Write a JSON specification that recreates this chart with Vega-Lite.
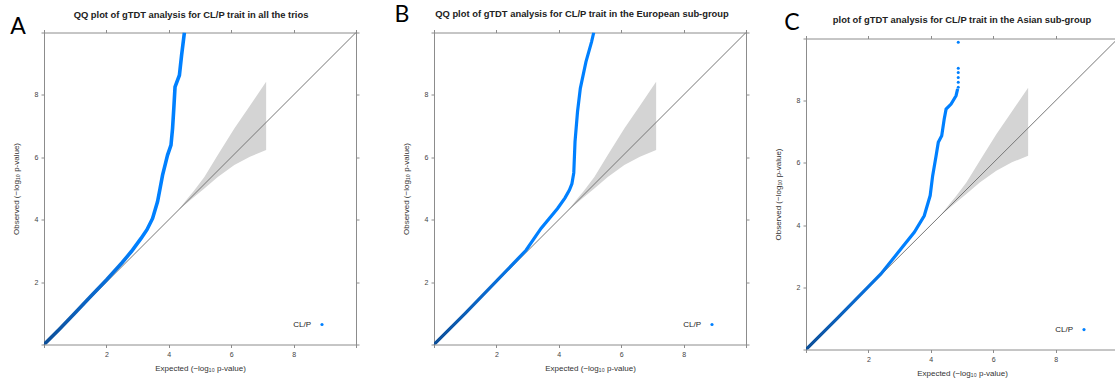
{
  "$schema": "https://vega.github.io/schema/vega-lite/v6.json",
  "padding": {"left": 10, "top": 3.5, "right": 0, "bottom": 0},
  "background": "white",
  "config": {
    "view": {"stroke": null},
    "axis": {"grid": false, "domainColor": "#8c8c8c", "tickColor": "#8c8c8c", "tickSize": 3, "domainWidth": 1, "labelFont": "Liberation Sans", "labelFontSize": 7, "labelColor": "#444", "titleFont": "Liberation Sans", "titleFontSize": 8, "titleFontWeight": "normal", "titleColor": "#333", "labelPadding": 3},
    "title": {"font": "Liberation Sans", "fontSize": 9.4, "fontWeight": "bold", "color": "#222", "anchor": "middle", "offset": 13}
  },
  "datasets": {
    "one": [{"k": 1}],
    "none": [],
    "diag": [{"x": 0, "y": 0}, {"x": 10, "y": 10}],
    "band": [
      {"x": 4.3, "lo": 4.3, "hi": 4.3},
      {"x": 4.6, "lo": 4.55, "hi": 4.68},
      {"x": 4.8, "lo": 4.72, "hi": 4.92},
      {"x": 5.14, "lo": 5.0, "hi": 5.37},
      {"x": 5.57, "lo": 5.37, "hi": 6.07},
      {"x": 6.1, "lo": 5.75, "hi": 6.92},
      {"x": 6.6, "lo": 6.02, "hi": 7.65},
      {"x": 7.12, "lo": 6.23, "hi": 8.42}
    ],
    "qqA": [
      {"x": 0, "y": 0}, {"x": 0.5, "y": 0.5}, {"x": 1, "y": 1.02}, {"x": 1.5, "y": 1.55}, {"x": 2, "y": 2.07}, {"x": 2.5, "y": 2.62}, {"x": 2.8, "y": 2.98}, {"x": 3.11, "y": 3.4}, {"x": 3.3, "y": 3.68}, {"x": 3.48, "y": 4.04}, {"x": 3.64, "y": 4.58}, {"x": 3.72, "y": 5.0}, {"x": 3.8, "y": 5.43}, {"x": 3.88, "y": 5.75}, {"x": 3.96, "y": 6.07}, {"x": 4.07, "y": 6.39}, {"x": 4.12, "y": 6.92}, {"x": 4.16, "y": 7.56}, {"x": 4.2, "y": 8.26}, {"x": 4.34, "y": 8.63}, {"x": 4.41, "y": 9.27}, {"x": 4.5, "y": 10.0}
    ],
    "qqB": [
      {"x": 0, "y": 0}, {"x": 1, "y": 1}, {"x": 2, "y": 2.03}, {"x": 2.95, "y": 3.02}, {"x": 3.43, "y": 3.72}, {"x": 3.96, "y": 4.36}, {"x": 4.2, "y": 4.7}, {"x": 4.34, "y": 4.95}, {"x": 4.42, "y": 5.15}, {"x": 4.48, "y": 5.5}, {"x": 4.52, "y": 6.5}, {"x": 4.6, "y": 7.46}, {"x": 4.69, "y": 8.21}, {"x": 4.87, "y": 9.06}, {"x": 5.05, "y": 9.7}, {"x": 5.12, "y": 10.0}
    ],
    "qqC": [
      {"x": 0, "y": 0}, {"x": 1, "y": 1}, {"x": 2, "y": 2.02}, {"x": 2.4, "y": 2.43}, {"x": 3.04, "y": 3.23}, {"x": 3.47, "y": 3.77}, {"x": 3.79, "y": 4.3}, {"x": 3.98, "y": 4.95}, {"x": 4.06, "y": 5.59}, {"x": 4.17, "y": 6.23}, {"x": 4.24, "y": 6.66}, {"x": 4.35, "y": 6.87}, {"x": 4.43, "y": 7.41}, {"x": 4.49, "y": 7.73}, {"x": 4.65, "y": 7.89}, {"x": 4.81, "y": 8.16}, {"x": 4.86, "y": 8.38}
    ],
    "topC": [
      {"x": 4.88, "y": 8.43}, {"x": 4.88, "y": 8.59}, {"x": 4.88, "y": 8.75}, {"x": 4.88, "y": 8.91}, {"x": 4.88, "y": 9.04}, {"x": 4.88, "y": 9.88}
    ]
  },
  "bounds": "flush",
  "spacing": 78,
  "hconcat": [
    {
      "width": 312, "height": 312,
      "title": {"text": "QQ plot of gTDT analysis for CL/P trait in all the trios", "dy": 18, "dx": -9},
      "resolve": {"axis": {"x": "independent", "y": "independent"}},
      "layer": [
        {
          "data": {"name": "band"},
          "mark": {"type": "area", "color": "#d4d4d4", "opacity": 1},
          "encoding": {
            "x": {"field": "x", "type": "quantitative", "scale": {"domain": [0, 10], "nice": false, "zero": false}, "axis": {"orient": "bottom", "values": [0, 2, 4, 6, 8, 10], "labelExpr": "datum.value == 0 || datum.value == 10 ? '' : datum.label", "title": "Expected (−log₁₀ p-value)", "titlePadding": 7}},
            "y": {"field": "lo", "type": "quantitative", "scale": {"domain": [0, 10], "nice": false, "zero": false}, "axis": {"orient": "left", "values": [0, 2, 4, 6, 8, 10], "labelExpr": "datum.value == 0 || datum.value == 10 ? '' : datum.label", "title": "Observed (−log₁₀ p-value)", "titlePadding": 14}},
            "y2": {"field": "hi"}
          }
        },
        {
          "data": {"name": "diag"},
          "mark": {"type": "line", "color": "#777777", "strokeWidth": 1},
          "encoding": {
            "x": {"field": "x", "type": "quantitative", "axis": {"orient": "top", "values": [0, 2, 4, 6, 8, 10], "labels": false, "title": null}},
            "y": {"field": "y", "type": "quantitative", "axis": {"orient": "right", "values": [0, 2, 4, 6, 8, 10], "labels": false, "title": null}}
          }
        },
        {
          "data": {"name": "qqA"},
          "mark": {"type": "line", "strokeWidth": 3.6, "clip": true, "stroke": {"gradient": "linear", "x1": 0, "y1": 1, "x2": 0, "y2": 0, "stops": [{"offset": 0, "color": "#0d4f98"}, {"offset": 0.18, "color": "#0a6ad0"}, {"offset": 0.32, "color": "#0080ff"}, {"offset": 1, "color": "#0080ff"}]}},
          "encoding": {
            "x": {"field": "x", "type": "quantitative", "axis": null},
            "y": {"field": "y", "type": "quantitative", "axis": null}
          }
        },
        {
          "data": {"name": "one"},
          "mark": {"type": "point", "filled": true, "color": "#0080ff", "size": 10, "opacity": 1},
          "encoding": {"x": {"datum": 8.91, "type": "quantitative", "axis": null}, "y": {"datum": 0.64, "type": "quantitative", "axis": null}}
        },
        {
          "data": {"name": "one"},
          "mark": {"type": "text", "text": "CL/P", "align": "right", "baseline": "middle", "font": "Liberation Sans", "fontSize": 8, "color": "#222"},
          "encoding": {"x": {"datum": 8.56, "type": "quantitative", "axis": null}, "y": {"datum": 0.64, "type": "quantitative", "axis": null}}
        },
        {
          "data": {"name": "one"},
          "mark": {"type": "text", "text": "A", "align": "center", "baseline": "middle", "font": "Lato", "fontSize": 23, "color": "#000", "clip": false},
          "encoding": {"x": {"datum": -0.83, "type": "quantitative", "axis": null}, "y": {"datum": 10.18, "type": "quantitative", "axis": null}}
        }
      ]
    },
    {
      "bounds": "flush",
      "spacing": 60,
      "hconcat": [
        {
          "width": 312, "height": 312,
          "title": {"text": "QQ plot of gTDT analysis for CL/P trait in the European sub-group", "dy": 28, "dx": -8},
          "resolve": {"axis": {"x": "independent", "y": "independent"}},
          "layer": [
            {
              "data": {"name": "band"},
              "mark": {"type": "area", "color": "#d4d4d4", "opacity": 1},
              "encoding": {
                "x": {"field": "x", "type": "quantitative", "scale": {"domain": [0, 10], "nice": false, "zero": false}, "axis": {"orient": "bottom", "values": [0, 2, 4, 6, 8, 10], "labelExpr": "datum.value == 0 || datum.value == 10 ? '' : datum.label", "title": "Expected (−log₁₀ p-value)", "titlePadding": 7}},
                "y": {"field": "lo", "type": "quantitative", "scale": {"domain": [0, 10], "nice": false, "zero": false}, "axis": {"orient": "left", "values": [0, 2, 4, 6, 8, 10], "labelExpr": "datum.value == 0 || datum.value == 10 ? '' : datum.label", "title": "Observed (−log₁₀ p-value)", "titlePadding": 14}},
                "y2": {"field": "hi"}
              }
            },
            {
              "data": {"name": "diag"},
              "mark": {"type": "line", "color": "#777777", "strokeWidth": 1},
              "encoding": {
                "x": {"field": "x", "type": "quantitative", "axis": {"orient": "top", "values": [0, 2, 4, 6, 8, 10], "labels": false, "title": null}},
                "y": {"field": "y", "type": "quantitative", "axis": {"orient": "right", "values": [0, 2, 4, 6, 8, 10], "labels": false, "title": null}}
              }
            },
            {
              "data": {"name": "qqB"},
              "mark": {"type": "line", "strokeWidth": 3.2, "clip": true, "stroke": {"gradient": "linear", "x1": 0, "y1": 1, "x2": 0, "y2": 0, "stops": [{"offset": 0, "color": "#0d4f98"}, {"offset": 0.18, "color": "#0a6ad0"}, {"offset": 0.32, "color": "#0080ff"}, {"offset": 1, "color": "#0080ff"}]}},
              "encoding": {
                "x": {"field": "x", "type": "quantitative", "axis": null},
                "y": {"field": "y", "type": "quantitative", "axis": null}
              }
            },
            {
              "data": {"name": "one"},
              "mark": {"type": "point", "filled": true, "color": "#0080ff", "size": 10, "opacity": 1},
              "encoding": {"x": {"datum": 8.91, "type": "quantitative", "axis": null}, "y": {"datum": 0.64, "type": "quantitative", "axis": null}}
            },
            {
              "data": {"name": "one"},
              "mark": {"type": "text", "text": "CL/P", "align": "right", "baseline": "middle", "font": "Liberation Sans", "fontSize": 8, "color": "#222"},
              "encoding": {"x": {"datum": 8.56, "type": "quantitative", "axis": null}, "y": {"datum": 0.64, "type": "quantitative", "axis": null}}
            },
            {
              "data": {"name": "one"},
              "mark": {"type": "text", "text": "B", "align": "center", "baseline": "middle", "font": "Lato", "fontSize": 23, "color": "#000", "clip": false},
              "encoding": {"x": {"datum": -1.03, "type": "quantitative", "axis": null}, "y": {"datum": 10.55, "type": "quantitative", "axis": null}}
            }
          ]
        },
        {
          "bounds": "flush",
          "spacing": 5,
          "vconcat": [
            {
              "width": 312, "height": 1,
              "data": {"name": "none"},
              "mark": {"type": "point", "opacity": 0},
              "encoding": {}
            },
            {
              "width": 312, "height": 311,
              "title": {"text": "plot of gTDT analysis for CL/P trait in the Asian sub-group", "dy": 26},
              "resolve": {"axis": {"x": "independent", "y": "independent"}},
              "layer": [
                {
                  "data": {"name": "band"},
                  "mark": {"type": "area", "color": "#d4d4d4", "opacity": 1},
                  "encoding": {
                    "x": {"field": "x", "type": "quantitative", "scale": {"domain": [0, 10], "nice": false, "zero": false}, "axis": {"orient": "bottom", "values": [0, 2, 4, 6, 8, 10], "labelExpr": "datum.value == 0 || datum.value == 10 ? '' : datum.label", "title": "Expected (−log₁₀ p-value)", "titlePadding": 7}},
                    "y": {"field": "lo", "type": "quantitative", "scale": {"domain": [0, 10], "nice": false, "zero": false}, "axis": {"orient": "left", "values": [0, 2, 4, 6, 8, 10], "labelExpr": "datum.value == 0 || datum.value == 10 ? '' : datum.label", "title": "Observed (−log₁₀ p-value)", "titlePadding": 14}},
                    "y2": {"field": "hi"}
                  }
                },
                {
                  "data": {"name": "diag"},
                  "mark": {"type": "line", "color": "#777777", "strokeWidth": 1},
                  "encoding": {
                    "x": {"field": "x", "type": "quantitative", "axis": {"orient": "top", "values": [0, 2, 4, 6, 8, 10], "labels": false, "title": null}},
                    "y": {"field": "y", "type": "quantitative", "axis": null}
                  }
                },
                {
                  "data": {"name": "qqC"},
                  "mark": {"type": "line", "strokeWidth": 3.2, "clip": true, "stroke": {"gradient": "linear", "x1": 0, "y1": 1, "x2": 0, "y2": 0, "stops": [{"offset": 0, "color": "#0d4f98"}, {"offset": 0.2, "color": "#0a6ad0"}, {"offset": 0.36, "color": "#0080ff"}, {"offset": 1, "color": "#0080ff"}]}},
                  "encoding": {
                    "x": {"field": "x", "type": "quantitative", "axis": null},
                    "y": {"field": "y", "type": "quantitative", "axis": null}
                  }
                },
                {
                  "data": {"name": "topC"},
                  "mark": {"type": "point", "filled": true, "color": "#0080ff", "size": 9, "opacity": 1},
                  "encoding": {
                    "x": {"field": "x", "type": "quantitative", "axis": null},
                    "y": {"field": "y", "type": "quantitative", "axis": null}
                  }
                },
                {
                  "data": {"name": "one"},
                  "mark": {"type": "point", "filled": true, "color": "#0080ff", "size": 10, "opacity": 1},
                  "encoding": {"x": {"datum": 8.91, "type": "quantitative", "axis": null}, "y": {"datum": 0.64, "type": "quantitative", "axis": null}}
                },
                {
                  "data": {"name": "one"},
                  "mark": {"type": "text", "text": "CL/P", "align": "right", "baseline": "middle", "font": "Liberation Sans", "fontSize": 8, "color": "#222"},
                  "encoding": {"x": {"datum": 8.56, "type": "quantitative", "axis": null}, "y": {"datum": 0.64, "type": "quantitative", "axis": null}}
                },
                {
                  "data": {"name": "one"},
                  "mark": {"type": "text", "text": "C", "align": "center", "baseline": "middle", "font": "Lato", "fontSize": 23, "color": "#000", "clip": false},
                  "encoding": {"x": {"datum": -0.45, "type": "quantitative", "axis": null}, "y": {"datum": 10.49, "type": "quantitative", "axis": null}}
                }
              ]
            }
          ]
        }
      ]
    }
  ]
}
